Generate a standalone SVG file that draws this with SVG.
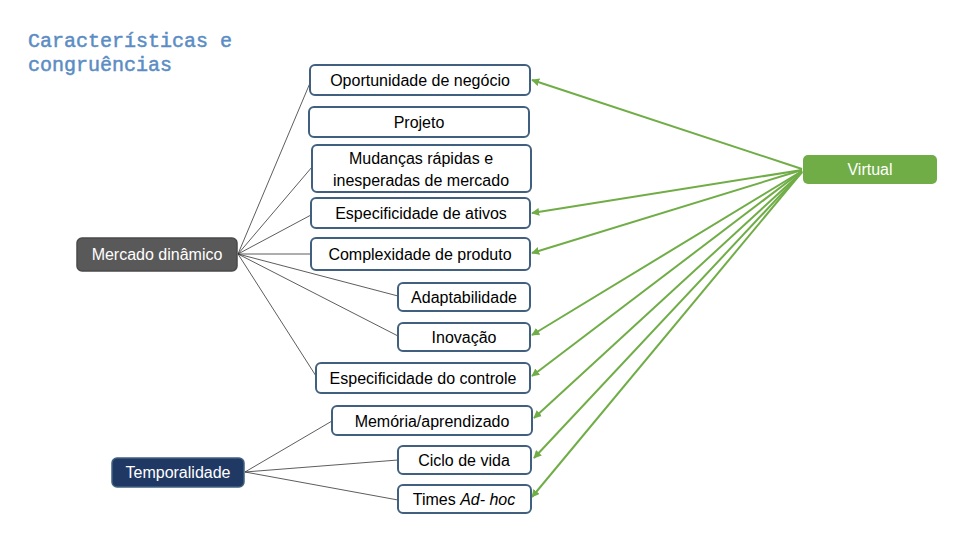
<svg xmlns="http://www.w3.org/2000/svg" width="960" height="540" viewBox="0 0 960 540">
<defs>
<style>
.box{fill:#fff;stroke:#41607f;stroke-width:2}
.t{font-family:"Liberation Sans",Arial,sans-serif;font-size:16px;fill:#000;text-anchor:middle}
.tw{font-family:"Liberation Sans",Arial,sans-serif;font-size:16px;fill:#fff;text-anchor:middle}
.thin{stroke:#333;stroke-width:0.8;fill:none}
.g{stroke:#70ad47;stroke-width:2;fill:none;marker-end:url(#ah)}
.title{font-family:"Liberation Mono","Courier New",monospace;font-size:20px;fill:#5b8dc4;stroke:#5b8dc4;stroke-width:0.5}
</style>
<marker id="ah" viewBox="0 0 10 10" refX="9" refY="5" markerWidth="4" markerHeight="4" orient="auto" markerUnits="strokeWidth">
<path d="M0,0 L10,5 L0,10 z" fill="#70ad47"/>
</marker>
</defs>
<rect width="960" height="540" fill="#fff"/>
<text class="title" x="28" y="47">Características e</text>
<text class="title" x="28" y="71">congruências</text>

<g id="connectors">
<line class="thin" x1="238" y1="254" x2="310" y2="83"/>
<line class="thin" x1="238" y1="254" x2="312" y2="167"/>
<line class="thin" x1="238" y1="254" x2="311" y2="215"/>
<line class="thin" x1="238" y1="254" x2="311" y2="254"/>
<line class="thin" x1="238" y1="254" x2="398" y2="296"/>
<line class="thin" x1="238" y1="254" x2="398" y2="336"/>
<line class="thin" x1="238" y1="254" x2="316" y2="376"/>
<line class="thin" x1="245" y1="472" x2="332" y2="421"/>
<line class="thin" x1="245" y1="472" x2="398" y2="460"/>
<line class="thin" x1="245" y1="472" x2="398" y2="500"/>
<line class="g" x1="802" y1="169" x2="532" y2="80"/>
<line class="g" x1="802" y1="170" x2="532" y2="213"/>
<line class="g" x1="802" y1="170" x2="532" y2="253"/>
<line class="g" x1="802" y1="171" x2="532" y2="335"/>
<line class="g" x1="802" y1="171" x2="532" y2="376"/>
<line class="g" x1="802" y1="172" x2="534" y2="418"/>
<line class="g" x1="802" y1="172" x2="534" y2="458"/>
<line class="g" x1="802" y1="172" x2="532" y2="497"/>
</g>

<g id="n-oportunidade"><rect class="box" x="310" y="65" width="220" height="30" rx="5"/><text class="t" x="420" y="86">Oportunidade de negócio</text></g>
<g id="n-projeto"><rect class="box" x="309" y="107" width="220" height="30" rx="5"/><text class="t" x="419" y="128">Projeto</text></g>
<g id="n-mudancas"><rect class="box" x="312" y="145" width="219" height="47" rx="5"/><text class="t" x="421" y="164">Mudanças rápidas e</text><text class="t" x="421" y="186">inesperadas de mercado</text></g>
<g id="n-ativos"><rect class="box" x="311" y="198" width="219" height="30" rx="5"/><text class="t" x="421" y="219">Especificidade de ativos</text></g>
<g id="n-complexidade"><rect class="box" x="311" y="238" width="219" height="32" rx="5"/><text class="t" x="420" y="260">Complexidade de produto</text></g>
<g id="n-adaptabilidade"><rect class="box" x="398" y="283" width="132" height="28" rx="5"/><text class="t" x="464" y="303">Adaptabilidade</text></g>
<g id="n-inovacao"><rect class="box" x="398" y="323" width="132" height="28" rx="5"/><text class="t" x="464" y="343">Inovação</text></g>
<g id="n-controle"><rect class="box" x="316" y="363" width="214" height="30" rx="5"/><text class="t" x="423" y="384">Especificidade do controle</text></g>
<g id="n-memoria"><rect class="box" x="332" y="406" width="200" height="29" rx="5"/><text class="t" x="432" y="427">Memória/aprendizado</text></g>
<g id="n-ciclo"><rect class="box" x="398" y="446" width="133" height="28" rx="5"/><text class="t" x="464" y="466">Ciclo de vida</text></g>
<g id="n-times"><rect class="box" x="398" y="485" width="133" height="28" rx="5"/><text class="t" x="464" y="505">Times <tspan font-style="italic">Ad- hoc</tspan></text></g>

<g id="n-mercado"><rect x="77" y="238" width="160" height="33" rx="5" fill="#595959" stroke="#4a4a4a" stroke-width="1.5"/><text class="tw" x="157" y="260">Mercado dinâmico</text></g>
<g id="n-temporalidade"><rect x="112" y="458" width="132" height="29" rx="5" fill="#1f3864" stroke="#41607f" stroke-width="1.5"/><text class="tw" x="178" y="478">Temporalidade</text></g>
<g id="n-virtual"><rect x="803" y="155" width="134" height="29" rx="5" fill="#70ad47"/><text class="tw" x="870" y="175">Virtual</text></g>
</svg>
